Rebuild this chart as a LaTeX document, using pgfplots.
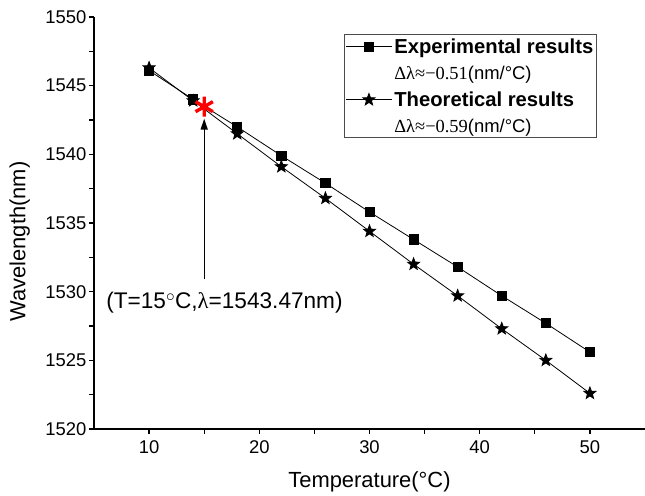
\documentclass[border=0pt]{standalone}
\usepackage{pgfplots}
\pgfplotsset{compat=1.18}
\usepackage{fontspec}
\setmainfont{Liberation Sans}
\newfontfamily\tms{Liberation Serif}
\usetikzlibrary{arrows.meta}

% filled five-point star
\pgfdeclareplotmark{fstar}{%
  \pgfpathmoveto{\pgfpointpolar{90}{\pgfplotmarksize}}%
  \pgfpathlineto{\pgfpointpolar{126}{0.42\pgfplotmarksize}}%
  \pgfpathlineto{\pgfpointpolar{162}{\pgfplotmarksize}}%
  \pgfpathlineto{\pgfpointpolar{198}{0.42\pgfplotmarksize}}%
  \pgfpathlineto{\pgfpointpolar{234}{\pgfplotmarksize}}%
  \pgfpathlineto{\pgfpointpolar{270}{0.42\pgfplotmarksize}}%
  \pgfpathlineto{\pgfpointpolar{306}{\pgfplotmarksize}}%
  \pgfpathlineto{\pgfpointpolar{342}{0.42\pgfplotmarksize}}%
  \pgfpathlineto{\pgfpointpolar{18}{\pgfplotmarksize}}%
  \pgfpathlineto{\pgfpointpolar{54}{0.42\pgfplotmarksize}}%
  \pgfpathclose
  \pgfusepathqfillstroke}

\begin{document}
\begin{tikzpicture}
\begin{axis}[
    at={(94bp,67bp)}, anchor=south west,
    scale only axis, width=551bp, height=412bp,
    xmin=5, xmax=55, ymin=1520, ymax=1550,
    axis x line*=bottom, axis y line*=left,
    axis line style={line width=1.5bp},
    xtick={10,20,...,50}, ytick={1520,1525,...,1550},
    minor x tick num=1, minor y tick num=1,
    tick align=outside,
    major tick length=5bp, minor tick length=5bp,
    every tick/.style={line width=1.3bp, black},
    /pgf/number format/assume math mode=true,
    /pgf/number format/set thousands separator={},
    tick label style={font=\fontsize{18.5}{21}\selectfont},
    yticklabel style={xshift=1bp},
    xticklabel style={yshift=-3bp},
    xlabel={Temperature(°C)},
    ylabel={Wavelength(nm)},
    label style={font=\fontsize{22}{26}\selectfont},
    xlabel style={at={(axis description cs:0.5,-0.128)}, anchor=center},
    ylabel style={at={(axis description cs:-0.135,0.455)}, anchor=center},
    clip=false,
    legend cell align=left,
    legend image code/.code={%
      \draw[mark repeat=2, mark phase=2] plot coordinates {(0bp,0bp) (23bp,0bp) (46bp,0bp)};},
    legend style={at={(axis description cs:0.454,0.958)}, anchor=north west,
      draw=black!70, line width=0.8bp,
      font=\fontsize{20.3}{23}\selectfont\bfseries,
      inner xsep=1bp, inner ysep=2bp, row sep=7bp,
      nodes={inner sep=2bp}},
]

\addplot[black, line width=0.8bp, mark=square*, mark size=4.6bp] coordinates {
    (10,1546.1) (14,1544.0) (18,1542.0) (22,1539.9) (26,1537.9) (30,1535.8)
    (34,1533.8) (38,1531.8) (42,1529.7) (46,1527.7) (50,1525.6)
};
\addlegendentry{Experimental results}
\addlegendimage{empty legend}
\addlegendentry{\mdseries\fontsize{18.5}{20}\selectfont{\tms Δλ≈−0.51}(nm/°C)}

\addplot[black, line width=0.8bp, mark=fstar, mark size=6.3bp] coordinates {
    (10,1546.3) (14,1543.9) (18,1541.5) (22,1539.1) (26,1536.8) (30,1534.4)
    (34,1532.0) (38,1529.7) (42,1527.3) (46,1525.0) (50,1522.6)
};
\addlegendentry{Theoretical results}
\addlegendimage{empty legend}
\addlegendentry{\mdseries\fontsize{18.5}{20}\selectfont{\tms Δλ≈−0.59}(nm/°C)}

% marked point and its note
\addplot[forget plot, only marks, red, mark=asterisk, mark size=10bp,
    mark options={line width=3.4bp}] coordinates {(15,1543.47)};
\draw[line width=1.3bp, -{Triangle[length=11bp,width=7bp]}]
    (axis cs:15,1530.9) -- (axis cs:15,1542.6);
\node[anchor=west, inner sep=0pt, font=\fontsize{22.7}{26}\selectfont]
    at (axis cs:6.1,1529.2) {(T=15$^\circ$C,{\tms λ}=1543.47nm)};
\end{axis}
\pgfresetboundingbox
\path[use as bounding box] (0,0) rectangle (645bp,496bp);
\end{tikzpicture}
\end{document}
